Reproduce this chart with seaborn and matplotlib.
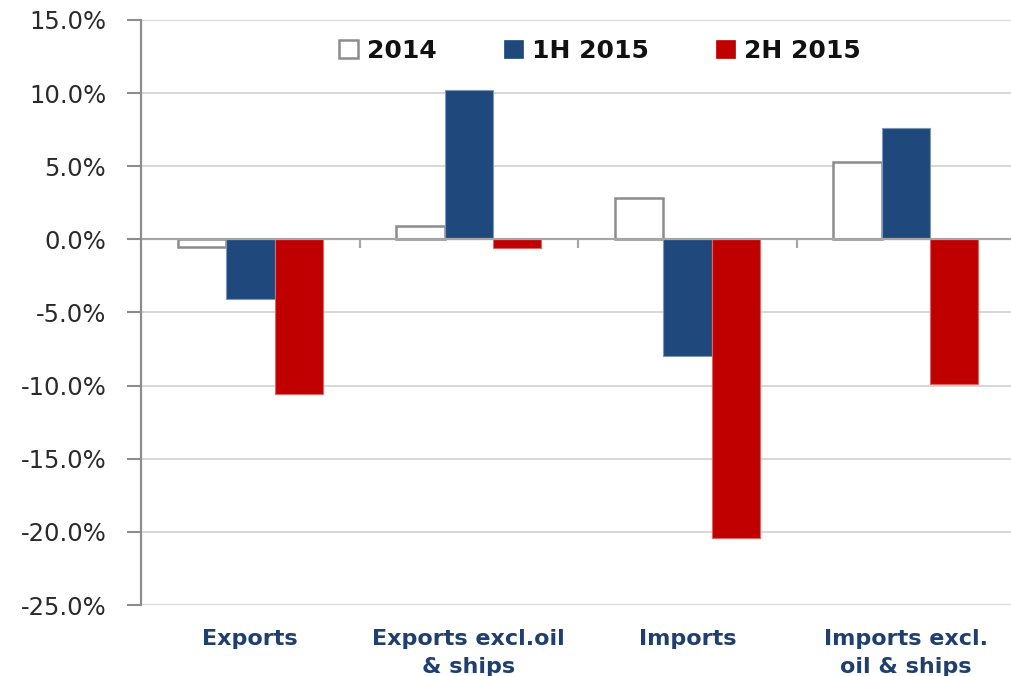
import matplotlib
matplotlib.use("Agg")
import matplotlib.pyplot as plt
import seaborn as sns
import pandas as pd
from matplotlib.ticker import FuncFormatter, MultipleLocator

# Growth rates (%, year on year)
categories = ["Exports", "Exports excl.oil\n& ships", "Imports", "Imports excl.\noil & ships"]
periods = ["2014", "1H 2015", "2H 2015"]
growth_2014 = [-0.5, 0.9, 2.8, 5.3]
growth_1h2015 = [-4.1, 10.2, -8.0, 7.6]
growth_2h2015 = [-10.6, -0.6, -20.4, -9.9]

df = pd.DataFrame({
    "category": categories * 3,
    "period": [periods[0]] * 4 + [periods[1]] * 4 + [periods[2]] * 4,
    "value": growth_2014 + growth_1h2015 + growth_2h2015,
})

sns.set_theme(style="white")
plt.rcParams["font.family"] = ["DejaVu Sans"]

fig = plt.figure(figsize=(10.11, 6.76), dpi=100)
ax = fig.add_axes([0.1395, 0.105, 0.8645, 0.8655])

palette = {"2014": "#FFFFFF", "1H 2015": "#1F497D", "2H 2015": "#C00000"}
sns.barplot(data=df, x="category", y="value", hue="period", hue_order=periods,
            order=categories, palette=palette, width=0.665, gap=0,
            saturation=1, ax=ax, legend=True)

# Edges: grey outline for the white series, thin matching edges for the others
edge_cols = {"2014": "#8C8C8C", "1H 2015": "#7F96B5", "2H 2015": "#E06666"}
for cont, per in zip(ax.containers, periods):
    for bar in cont:
        bar.set_edgecolor(edge_cols[per])
        bar.set_linewidth(1.8 if per == "2014" else 0.8)

ax.set_ylim(-25, 15)
ax.set_xlim(-0.5, 3.5)
ax.yaxis.set_major_locator(MultipleLocator(5))
ax.yaxis.set_major_formatter(FuncFormatter(lambda v, _: f"{v:.1f}%"))
ax.grid(axis="y", color="#D4D4D4", linewidth=1.3)
ax.set_axisbelow(True)

for s in ["top", "right", "bottom"]:
    ax.spines[s].set_visible(False)
ax.spines["left"].set_color("#8C8C8C")
ax.spines["left"].set_linewidth(1.6)

# zero line with category separator ticks
ax.axhline(0, color="#A6A6A6", linewidth=1.6, zorder=1.5)
ax.vlines([0.5, 1.5, 2.5], -0.6, 0, color="#A6A6A6", linewidth=1.6, zorder=1.5)

ax.tick_params(axis="y", which="major", direction="out", length=10, width=1.5,
               color="#8C8C8C", pad=15, labelsize=17.5, labelcolor="#2A2A2A", left=True)
ax.tick_params(axis="x", length=0, pad=17)
ax.set_xticks(range(len(categories)))
ax.set_xticklabels(categories, fontsize=16, fontweight="bold", color="#1F3F6E",
                   linespacing=1.5, va="top")
ax.set_xlabel("")
ax.set_ylabel("")

handles, labels = ax.get_legend_handles_labels()
for h, per in zip(handles, periods):
    h.set_edgecolor(edge_cols[per] if per == "2014" else palette[per])
    h.set_linewidth(1.8 if per == "2014" else 0.5)
leg = ax.legend(handles, labels, loc="center", bbox_to_anchor=(0.525, 0.947),
                ncol=3, frameon=False, handlelength=0.75, handleheight=0.75,
                handletextpad=0.35, columnspacing=2.7,
                prop={"size": 18, "weight": "bold"})
for t in leg.get_texts():
    t.set_color("#111111")

fig.savefig("out.png", dpi=100)
